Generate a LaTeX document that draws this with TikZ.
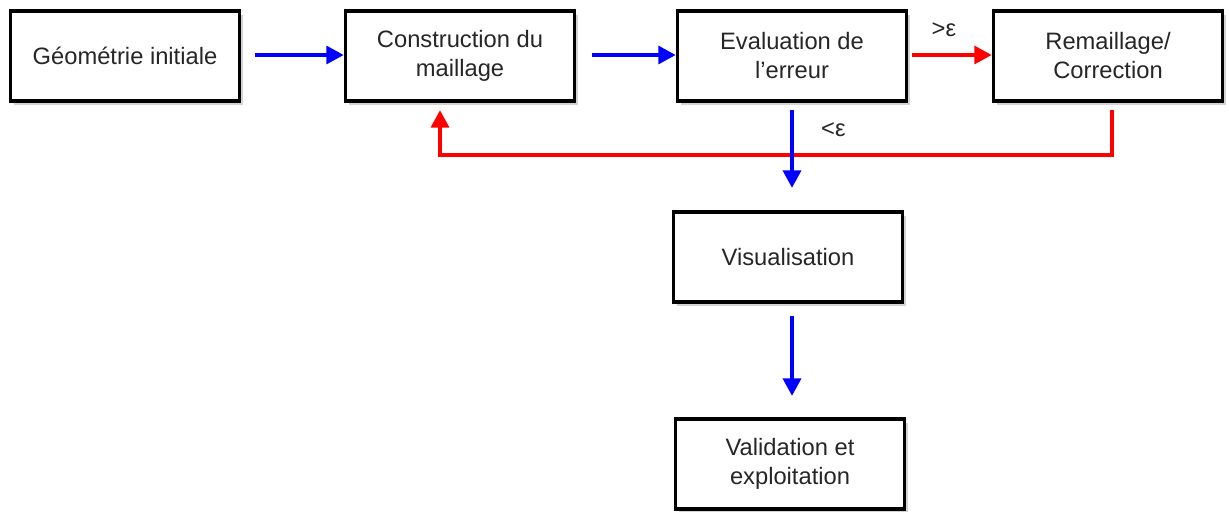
\documentclass[tikz,border=0pt]{standalone}
\usepackage{fontspec}
\setmainfont{Liberation Sans}
\usetikzlibrary{shadows,arrows.meta}
\begin{document}
\begin{tikzpicture}[
    x=0.02cm, y=-0.02cm,
    every node/.style={font=\fontsize{13.5}{16.5}\selectfont, text=black!85},
    stepbox/.style={rectangle, draw, line width=1.9pt, fill=white,
      minimum width=4.58cm, minimum height=1.8cm, align=center,
      drop shadow={shadow xshift=2pt, shadow yshift=-2pt, opacity=.35, fill=gray}},
    go/.style={-{Triangle[length=10pt,width=10pt]}, line width=2.6pt, blue},
    back/.style={-{Triangle[length=10pt,width=10pt]}, line width=2.6pt, red}
  ]
  \useasboundingbox (0,0) rectangle (1229,511);
  \node[stepbox] (geo) at (125,56) {Géométrie initiale};
  \node[stepbox] (mesh) at (460,56) {Construction du\\maillage};
  \node[stepbox] (eval) at (792,56) {Evaluation de\\l’erreur};
  \node[stepbox] (remesh) at (1108,56) {Remaillage/\\Correction};
  \node[stepbox] (visu) at (788,257) {Visualisation};
  \node[stepbox] (valid) at (790,464) {Validation et\\exploitation};
  \coordinate (c1) at (255,55);
  \coordinate (c2) at (592,55);
  \coordinate (c3) at (912,55);
  \coordinate (c4) at (792,110);
  \coordinate (c5) at (792,188);
  \coordinate (c6) at (1112,110);
  \coordinate (c7) at (440,110);
  \coordinate (c8) at (792,316);
  \coordinate (c9) at (792,396);
  \draw[go] (c1) -- (c1 -| mesh.west);
  \draw[go] (c2) -- (c2 -| eval.west);
  \draw[back] (c3) -- (c3 -| remesh.west) node[pos=.4, above=6pt] {>ε};
  \draw[back] (c6) -- ++(0,45) -| (c7);
  \draw[go] (c4) -- (c5) node[pos=.25, right=12pt] {<ε};
  \draw[go] (c8) -- (c9);
\end{tikzpicture}
\end{document}
